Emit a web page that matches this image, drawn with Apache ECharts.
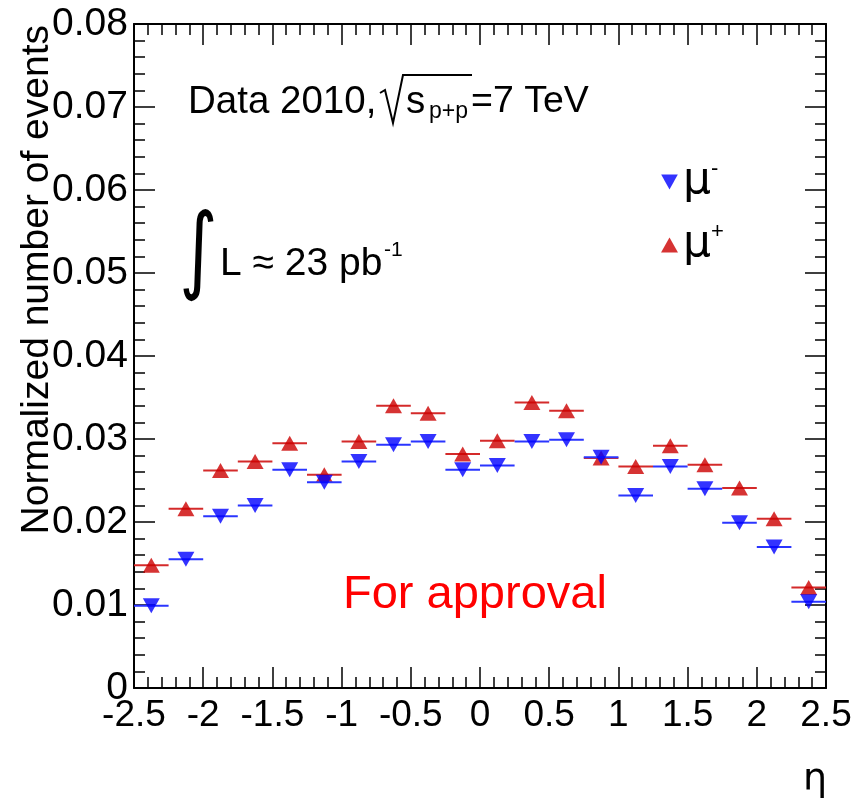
<!DOCTYPE html>
<html>
<head>
<meta charset="utf-8">
<title>Normalized number of events vs eta</title>
<script src="https://cdn.jsdelivr.net/npm/echarts@6/dist/echarts.min.js"></script>
<style>
html, body { margin: 0; padding: 0; background: #fff; }
#main { width: 864px; height: 804px; }
</style>
</head>
<body>
<div id="main"></div>
<script>
// eta bin edges (20 bins)
var etaEdges = [-2.5, -2.25, -2.0, -1.75, -1.5, -1.25, -1.0, -0.75, -0.5, -0.25, 0,
                0.25, 0.5, 0.75, 1.0, 1.25, 1.5, 1.75, 2.0, 2.25, 2.5];
// mu- : blue, down triangles
var muMinus = [0.0099, 0.0155, 0.0207, 0.0220, 0.0263, 0.0248, 0.0273, 0.0293, 0.0297, 0.0263,
               0.0268, 0.0297, 0.0299, 0.0278, 0.0232, 0.0267, 0.0240, 0.0199, 0.0170, 0.0104];
// mu+ : red, up triangles
var muPlus = [0.0148, 0.0216, 0.0262, 0.0273, 0.0295, 0.0257, 0.0297, 0.0340, 0.0331, 0.0282,
              0.0298, 0.0344, 0.0334, 0.0277, 0.0267, 0.0292, 0.0269, 0.0241, 0.0204, 0.0121];
var xTickLabels = ['-2.5', '-2', '-1.5', '-1', '-0.5', '0', '0.5', '1', '1.5', '2', '2.5'];
var yTickLabels = ['0', '0.01', '0.02', '0.03', '0.04', '0.05', '0.06', '0.07', '0.08'];

var FONT = 'Liberation Sans';

function binData(vals) {
  var out = [];
  for (var i = 0; i < vals.length; i++) {
    out.push([etaEdges[i], etaEdges[i + 1], vals[i]]);
  }
  return out;
}
function pointData(vals) {
  var out = [];
  for (var i = 0; i < vals.length; i++) {
    out.push([(etaEdges[i] + etaEdges[i + 1]) / 2, vals[i]]);
  }
  return out;
}

// horizontal bar spanning the bin
function renderBin(params, api) {
  var a = api.coord([api.value(0), api.value(2)]);
  var b = api.coord([api.value(1), api.value(2)]);
  return {
    type: 'line',
    shape: { x1: a[0], y1: a[1], x2: b[0], y2: b[1] },
    style: { stroke: api.visual('color'), lineWidth: 2 }
  };
}

function axisCommon(showLabel) {
  return {
    axisLine: { show: true, onZero: false, lineStyle: { color: '#000', width: 2 } },
    axisTick: { show: true, inside: true, length: 21, lineStyle: { color: '#000', width: 1.5 } },
    minorTick: { show: true, splitNumber: 5, length: 11, lineStyle: { color: '#000', width: 1.5 } },
    splitLine: { show: false },
    axisLabel: { show: showLabel, color: '#000', fontFamily: FONT, fontSize: 37 }
  };
}

var xBottom = Object.assign(axisCommon(true), {
  type: 'value', position: 'bottom', min: -2.5, max: 2.5, interval: 0.5
});
xBottom.axisLabel.margin = 9;
xBottom.axisLabel.formatter = function (v) { return xTickLabels[Math.round((v + 2.5) / 0.5)]; };
var xTop = Object.assign(axisCommon(false), {
  type: 'value', position: 'top', min: -2.5, max: 2.5, interval: 0.5
});
var yLeft = Object.assign(axisCommon(true), {
  type: 'value', position: 'left', min: 0, max: 0.08, interval: 0.01
});
yLeft.axisLabel.margin = 6;
yLeft.axisLabel.fontSize = 39;
yLeft.axisLabel.formatter = function (v) { return yTickLabels[Math.round(v / 0.01)]; };
var yRight = Object.assign(axisCommon(false), {
  type: 'value', position: 'right', min: 0, max: 0.08, interval: 0.01
});

var chart = echarts.init(document.getElementById('main'));
chart.setOption({
  backgroundColor: '#fff',
  animation: false,
  grid: { left: 134, right: 38, top: 24, bottom: 116 },
  xAxis: [xBottom, xTop],
  yAxis: [yLeft, yRight],
  legend: {
    data: ['μ-', 'μ+'],
    orient: 'vertical',
    left: 656,
    top: 153,
    itemWidth: 17,
    itemHeight: 15,
    itemGap: 17,
    formatter: function (name) { return '{m|μ}{s|' + name.slice(1) + '}'; },
    textStyle: {
      rich: {
        m: { fontFamily: 'DejaVu Sans', fontSize: 44, lineHeight: 48, color: '#000' },
        s: { fontFamily: FONT, fontSize: 22, color: '#000', verticalAlign: 'top', padding: [0, 0, 26, 0] }
      }
    }
  },
  graphic: [
    { type: 'text', x: 37, y: 25, rotation: Math.PI / 2,
      style: { text: 'Normalized number of events', fontFamily: FONT, fontSize: 39,
               fill: '#000', align: 'right', verticalAlign: 'middle' } },
    { type: 'text', x: 815, y: 780,
      style: { text: 'η', fontFamily: 'DejaVu Sans', fontSize: 38, fill: '#000',
               align: 'center', verticalAlign: 'middle' } },
    { type: 'text', x: 188, y: 102,
      style: { text: 'Data 2010,', fontFamily: FONT, fontSize: 38.5, fill: '#000', verticalAlign: 'middle' } },
    // square-root sign with its bar
    { type: 'polyline', shape: { points: [[380, 93], [385, 90], [393, 123], [403, 75], [472, 75]] },
      style: { stroke: '#000', lineWidth: 2, fill: null } },
    { type: 'text', x: 406, y: 102,
      style: { text: 's', fontFamily: FONT, fontSize: 38.5, fill: '#000', verticalAlign: 'middle' } },
    { type: 'text', x: 429, y: 112,
      style: { text: 'p+p', fontFamily: FONT, fontSize: 23, fill: '#000', verticalAlign: 'middle' } },
    { type: 'text', x: 471, y: 102,
      style: { text: '=7 TeV', fontFamily: FONT, fontSize: 37.5, fill: '#000', verticalAlign: 'middle' } },
    { type: 'text', x: 198.5, y: 256.5, scaleX: 0.92, scaleY: 1.19,
      style: { text: '∫', fontFamily: 'DejaVu Sans', fontSize: 80, fill: '#000',
               align: 'center', verticalAlign: 'middle' } },
    { type: 'text', x: 220, y: 264,
      style: { text: 'L ≈ 23 pb', fontFamily: FONT, fontSize: 39, fill: '#000', verticalAlign: 'middle' } },
    { type: 'text', x: 384, y: 250,
      style: { text: '-1', fontFamily: FONT, fontSize: 21, fill: '#000', verticalAlign: 'middle' } },
    { type: 'text', x: 343, y: 595,
      style: { text: 'For approval', fontFamily: FONT, fontSize: 47, fill: '#ff0000', verticalAlign: 'middle' } }
  ],
  series: [
    { name: 'μ+ bins', type: 'custom', renderItem: renderBin, data: binData(muPlus),
      encode: { x: [0, 1], y: 2 }, itemStyle: { color: '#d42a2a' }, z: 2 },
    { name: 'μ+', type: 'scatter', data: pointData(muPlus), symbol: 'triangle',
      symbolSize: [17, 15], itemStyle: { color: '#cc0000' }, z: 3 },
    { name: 'μ- bins', type: 'custom', renderItem: renderBin, data: binData(muMinus),
      encode: { x: [0, 1], y: 2 }, itemStyle: { color: '#2a35ff' }, z: 4 },
    { name: 'μ-', type: 'scatter', data: pointData(muMinus),
      symbol: 'path://M0,0 L10,0 L5,9 Z', symbolSize: [17, 15],
      itemStyle: { color: '#0000ff' }, z: 5 }
  ]
});
</script>
</body>
</html>
